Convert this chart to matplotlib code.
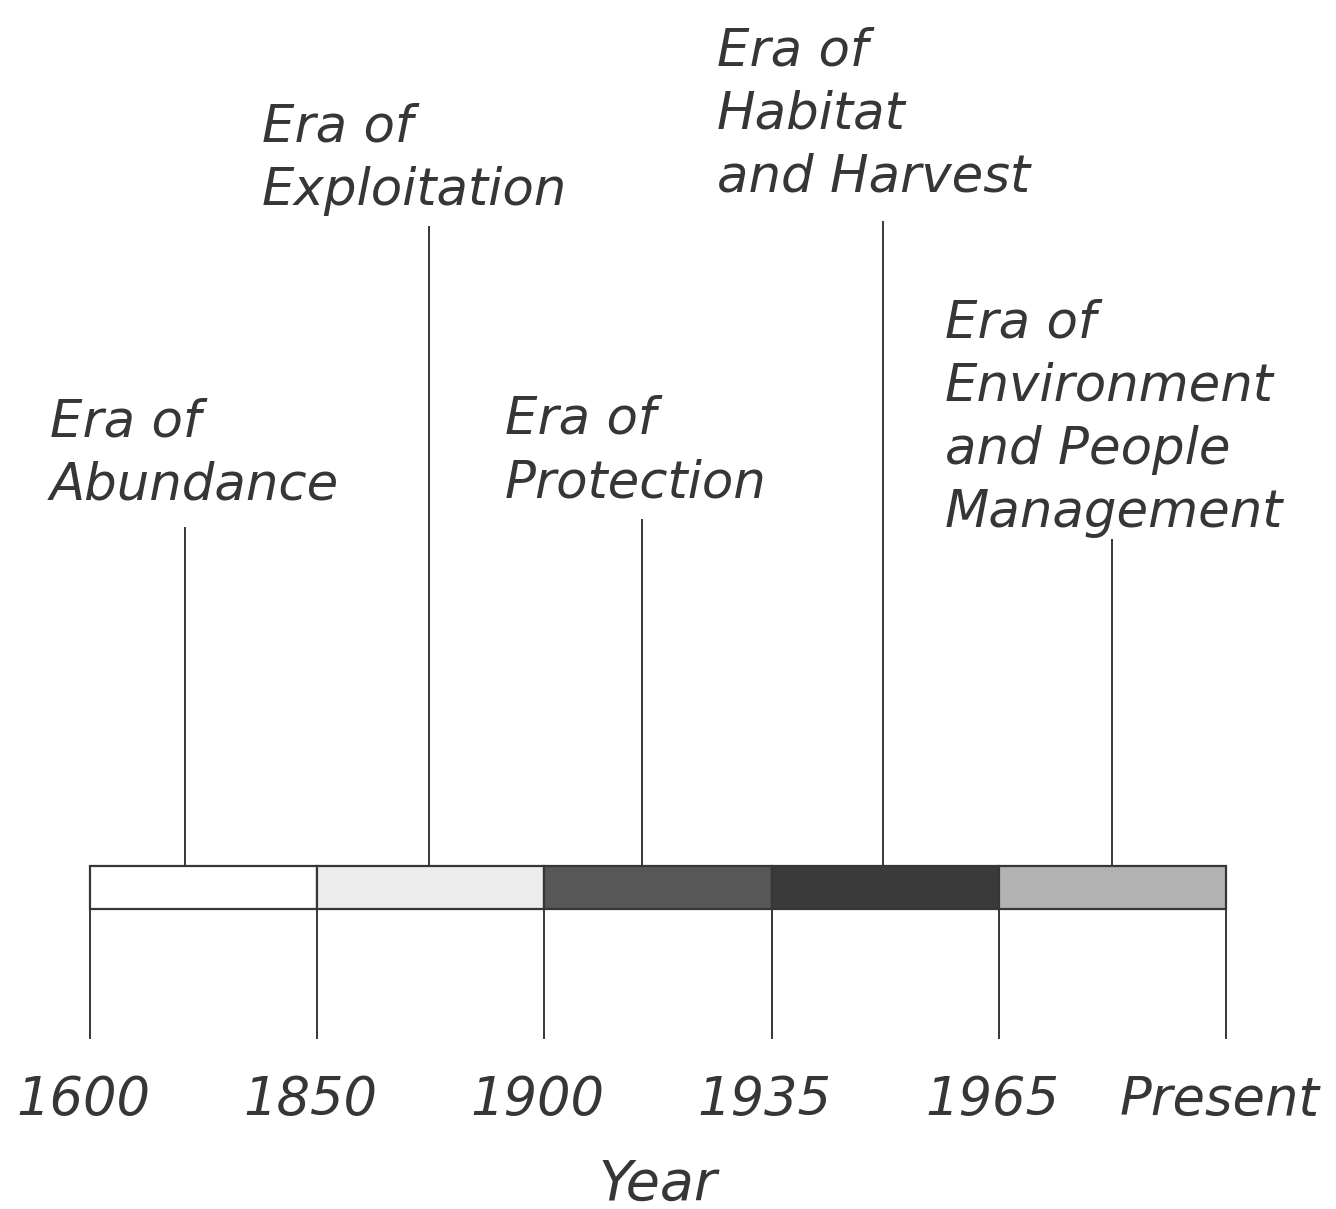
import matplotlib.pyplot as plt
from matplotlib.patches import Rectangle

# era timeline data
eras = ['Era of\nAbundance', 'Era of\nExploitation', 'Era of\nProtection',
        'Era of\nHabitat\nand Harvest', 'Era of\nEnvironment\nand People\nManagement']
year_labels = ['1600', '1850', '1900', '1935', '1965', 'Present']
era_start = [0, 1, 2, 3, 4]
era_shade = ['#ffffff', '#ececec', '#575757', '#3a3a3a', '#b2b2b2']
pointer_x = [0.42, 1.49, 2.43, 3.49, 4.50]

ink = '#363636'
fig = plt.figure(figsize=(13.36, 12.09), dpi=100)
ax = fig.add_axes([0, 0, 1, 1])
ax.set_xlim(-0.396, 5.484)
ax.set_ylim(1209, 0)
ax.axis('off')

bar_top, bar_bot = 866, 909

# coloured bar
for s, c in zip(era_start, era_shade):
    ax.add_patch(Rectangle((s, bar_top), 1, bar_bot - bar_top, facecolor=c,
                           edgecolor=ink, lw=1.6))

# ticks down to the year labels
for i, lab in enumerate(year_labels):
    ax.plot([i, i], [bar_bot, 1038], color=ink, lw=1.4)
    ax.text(i - 0.03, 1115, lab, ha='center', va='baseline', fontsize=38,
            style='italic', color=ink)

# era labels + pointer lines
text_x = [-0.176, 0.757, 1.827, 2.760, 3.763]
text_base = [500, 205, 497, 192, 527]
line_top = [528, 227, 520, 222, 540]
for name, tx, tb, px, lt in zip(eras, text_x, text_base, pointer_x, line_top):
    ax.text(tx, tb, name, ha='left', va='baseline', fontsize=37,
            style='italic', color=ink, linespacing=1.34)
    ax.plot([px, px], [lt, bar_top], color=ink, lw=1.4)

ax.text(2.5, 1200, 'Year', ha='center', va='baseline', fontsize=40,
        style='italic', color=ink)

fig.savefig('out.png', dpi=100)
